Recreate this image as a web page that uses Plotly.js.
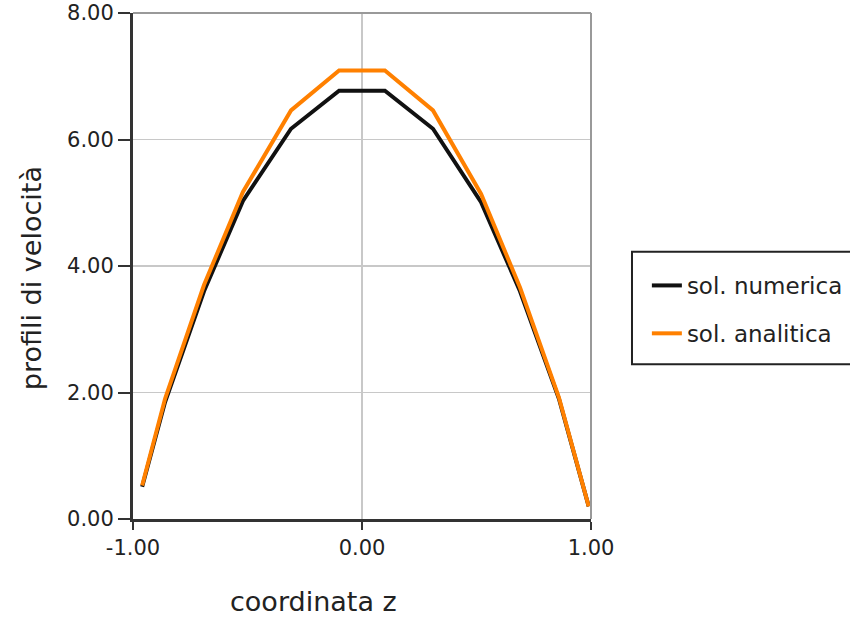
<!DOCTYPE html>
<html>
<head>
<meta charset="utf-8">
<script src="https://cdn.plot.ly/plotly-3.0.1.min.js"></script>
<style>html,body{margin:0;padding:0;background:#fff;}#chart{width:850px;height:619px;}</style>
</head>
<body>
<div id="chart"></div>
<script>
// coordinate z (x values)
const zValues = [-0.96, -0.86, -0.69, -0.52, -0.31, -0.10, 0.10, 0.31, 0.52, 0.69, 0.86, 0.99];
// numerical solution
const numerica = [0.51, 1.85, 3.60, 5.03, 6.17, 6.77, 6.77, 6.17, 5.01, 3.60, 1.90, 0.20];
// analytical solution
const analitica = [0.53, 1.90, 3.70, 5.17, 6.46, 7.09, 7.09, 6.46, 5.14, 3.66, 1.92, 0.20];
const seriesNames = ["sol. numerica", "sol. analitica"];
const xTickVals = [-1, 0, 1];
const xTickText = ["-1.00", "0.00", "1.00"];
const yTickVals = [0, 2, 4, 6, 8];
const yTickText = ["0.00", "2.00", "4.00", "6.00", "8.00"];

const font = "DejaVu Sans, Liberation Sans, Arial, sans-serif";
const traces = [
  {x: zValues, y: numerica, name: seriesNames[0], type: "scatter", mode: "lines",
   legendgroup: "g1", line: {color: "#111111", width: 4}},
  {x: zValues, y: analitica, name: seriesNames[1], type: "scatter", mode: "lines",
   legendgroup: "g2", line: {color: "#ff8000", width: 4}}
];
const layout = {
  width: 850, height: 619,
  margin: {l: 133, r: 259, t: 13, b: 100, pad: 0, autoexpand: false},
  paper_bgcolor: "#fff", plot_bgcolor: "#fff",
  font: {family: font, size: 21, color: "#222"},
  showlegend: true,
  legend: {x: 1.122, xanchor: "left", y: 0.504, yanchor: "top",
           borderwidth: 0, bgcolor: "rgba(0,0,0,0)",
           tracegroupgap: 15, traceorder: "grouped",
           font: {family: font, size: 23, color: "#222"}},
  xaxis: {range: [-1, 1], tickvals: xTickVals, ticktext: xTickText,
          ticks: "outside", ticklen: 8, tickwidth: 2, tickcolor: "#333",
          showline: true, linecolor: "#333", linewidth: 3,
          showgrid: true, gridcolor: "#c8c8c8", gridwidth: 1.5,
          zeroline: false, tickfont: {family: font, size: 21, color: "#222"},
          title: {text: ""}},
  yaxis: {range: [0, 8], tickvals: yTickVals, ticktext: yTickText,
          ticks: "outside", ticklen: 12, tickwidth: 2, tickcolor: "#333",
          showline: true, linecolor: "#333", linewidth: 3,
          showgrid: true, gridcolor: "#c8c8c8", gridwidth: 1.5,
          zeroline: false, tickfont: {family: font, size: 21, color: "#222"},
          title: {text: ""}},
  shapes: [
    {type: "line", xref: "paper", yref: "paper", x0: 0, x1: 1, y0: 1, y1: 1,
     line: {color: "#999", width: 2}},
    {type: "line", xref: "paper", yref: "paper", x0: 1, x1: 1, y0: 0, y1: 1,
     line: {color: "#999", width: 2}},
    {type: "rect", xref: "paper", yref: "paper", x0: 1.0895, x1: 1.568, y0: 0.306, y1: 0.528,
     line: {color: "#222", width: 2}, fillcolor: "rgba(0,0,0,0)"}
  ],
  annotations: [
    {text: "coordinata z", xref: "paper", yref: "paper", x: 0.395, y: -0.164,
     xanchor: "center", yanchor: "middle", showarrow: false,
     font: {family: font, size: 27, color: "#222"}},
    {text: "profili di velocità", xref: "paper", yref: "paper", x: -0.2227, y: 0.476,
     xanchor: "center", yanchor: "middle", showarrow: false, textangle: -90,
     font: {family: font, size: 27, color: "#222"}}
  ]
};
Plotly.newPlot("chart", traces, layout, {displayModeBar: false, staticPlot: true});
</script>
</body>
</html>
